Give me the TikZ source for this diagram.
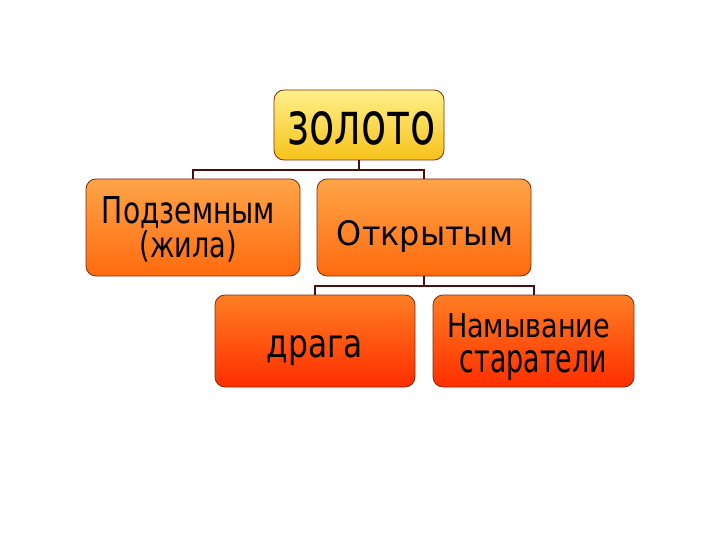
\documentclass[tikz,border=0pt]{standalone}
\usepackage{fontspec}
\setmainfont{DejaVu Sans}
\usepackage{graphicx}
\definecolor{bordc}{HTML}{7A2E10}
\definecolor{connc}{HTML}{4A0E0E}
\definecolor{yTop}{HTML}{FFF08A}
\definecolor{yBot}{HTML}{F7C21A}
\definecolor{oTop}{HTML}{FFA448}
\definecolor{oBot}{HTML}{FF6A0E}
\definecolor{rTop}{HTML}{FF7E22}
\definecolor{rBot}{HTML}{FF2E00}
\tikzset{
  box/.style={draw=bordc, line width=0.8pt, rounded corners=10pt, inner sep=0pt},
  goldbox/.style={box, top color=yTop, bottom color=yBot},
  orbox/.style={box, top color=oTop, bottom color=oBot},
  redbox/.style={box, top color=rTop, bottom color=rBot},
  conn/.style={draw=connc, line width=2pt},
  txt/.style={anchor=base, inner sep=0pt, text=black}
}
\begin{document}
\begin{tikzpicture}[x=1pt,y=-1pt]
\useasboundingbox (0,0) rectangle (720,540);
% boxes
\node[goldbox, minimum width=170pt, minimum height=70pt] (z) at (359,125) {};
\node[orbox, minimum width=214pt, minimum height=97pt] (p) at (193,227.5) {};
\node[orbox, minimum width=214pt, minimum height=97pt] (o) at (424,227.5) {};
\node[redbox, minimum width=200pt, minimum height=92pt] (d) at (315,341) {};
\node[redbox, minimum width=201pt, minimum height=92pt] (n) at (533.5,341) {};
% connectors
\draw[conn] (z.south) -- ++(0,10) -| (p.north);
\draw[conn] (z.south) -- ++(0,10) -| (o.north);
\draw[conn] (o.south) -- ++(0,10) -| (d.north);
\draw[conn] (o.south) -- ++(0,10) -| (n.north);
% texts
\node[txt] (zt) at (361.5,145) {\resizebox{148pt}{33pt}{золото}};
\node[txt] (pt1) at (188.5,224) {\resizebox{173pt}{27pt}{Подземным}};
\node[txt] (pt2) at (188.5,257) {\resizebox{97pt}{27pt}{(жила)}};
\node[txt] (ot) at (425,245) {\resizebox{176pt}{25pt}{Открытым}};
\node[txt] (dt) at (315,357) {\resizebox{96pt}{22pt}{драга}};
\node[txt] (nt1) at (528.5,337) {\resizebox{163pt}{24pt}{Намывание}};
\node[txt] (nt2) at (533.5,372) {\resizebox{147pt}{22pt}{старатели}};
\end{tikzpicture}
\end{document}
